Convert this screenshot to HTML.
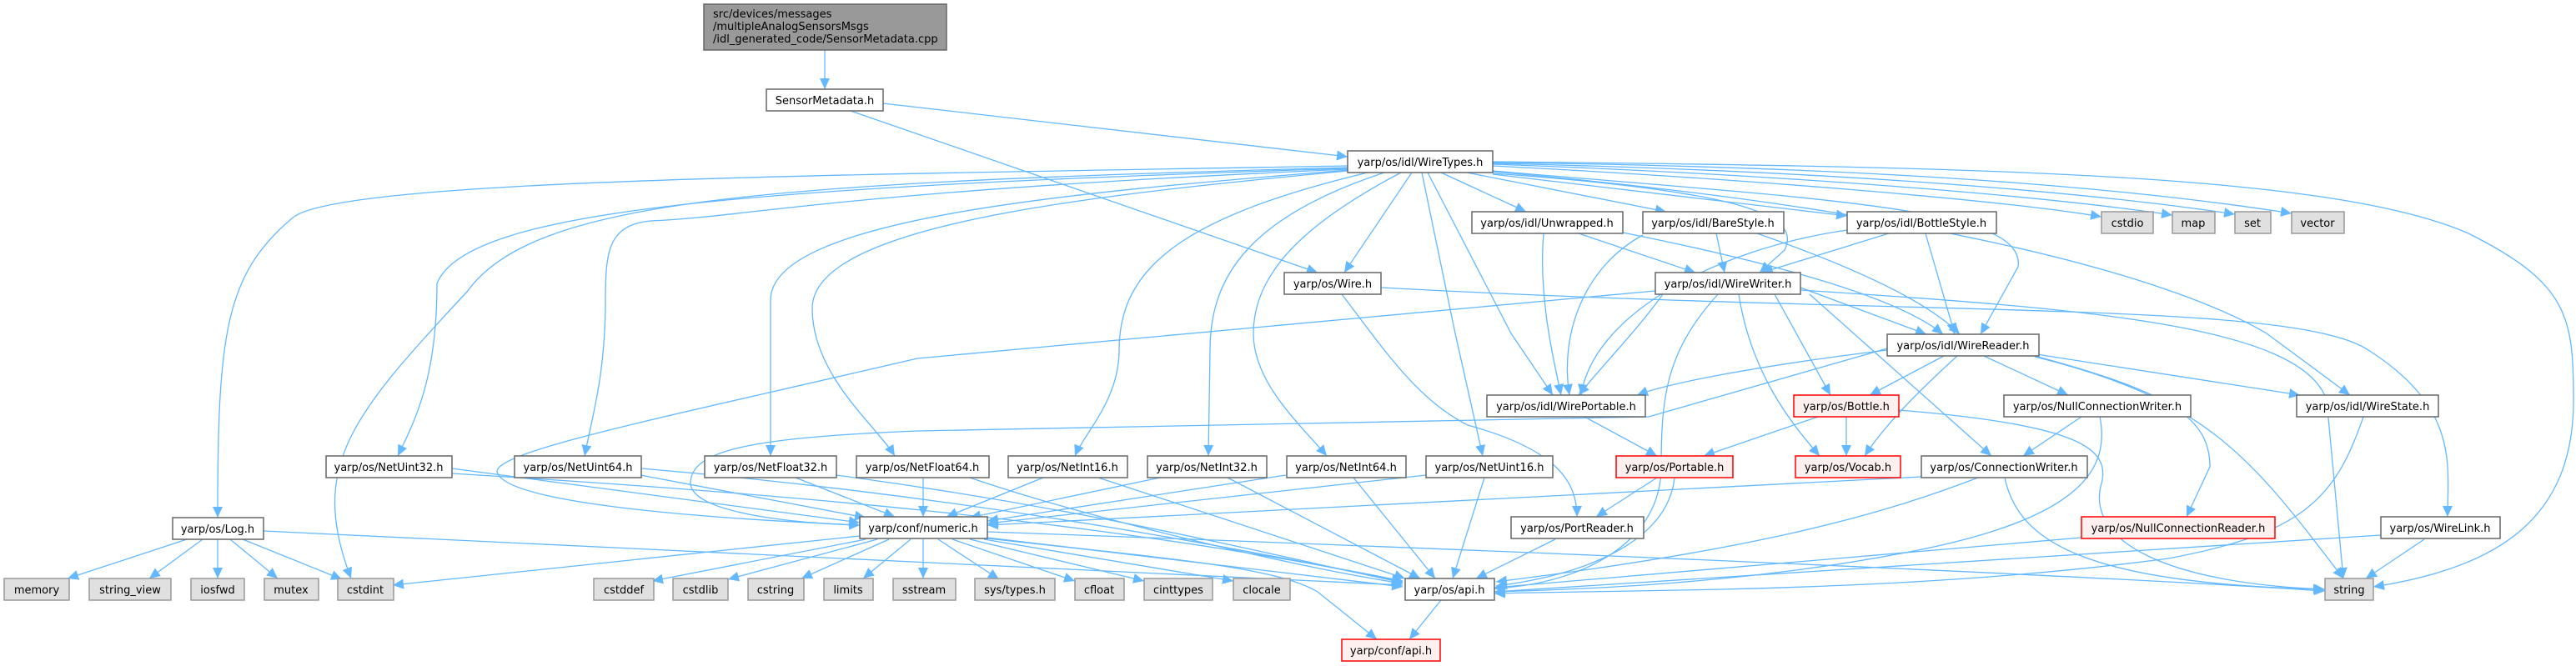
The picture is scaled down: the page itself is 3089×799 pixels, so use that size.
<!DOCTYPE html>
<html><head><meta charset="utf-8"><style>
html,body{margin:0;padding:0;background:#fff;}
svg{display:block;}
text{font-family:"DejaVu Sans","Liberation Sans",sans-serif;font-size:13px;fill:#000;}
.e{fill:none;stroke:#63b8ff;stroke-width:1.3;marker-end:url(#a);}
.n rect{fill:#fff;stroke:#666;stroke-width:1.5;}
.g rect{fill:#e0e0e0;stroke:#999;stroke-width:1.5;}
.r rect{fill:#fff0f0;stroke:#f00;stroke-width:1.5;}
</style></head><body>
<svg width="3089" height="799" viewBox="0 0 3089 799" xmlns="http://www.w3.org/2000/svg">
<defs><marker id="a" markerUnits="userSpaceOnUse" markerWidth="14" markerHeight="12" refX="13" refY="6" orient="auto"><path d="M0,0 L13,6 L0,12 z" fill="#63b8ff"/></marker></defs>
<g>
<path class="e" d="M989,60 L989,107"/>
<path class="e" d="M1059,124 L1616,188"/>
<path class="e" d="M1020,133 L1580,327"/>
<path class="e" d="M1616,199 C1000,210 400,215 350,262 C270,330 261,400 261,621"/>
<path class="e" d="M1616,201 C900,220 640,240 560,350 C420,500 370,560 421,694"/>
<path class="e" d="M1616,202 C900,225 560,250 524,340 C524,450 500,500 477,547"/>
<path class="e" d="M1616,203 C1000,230 900,260 780,265 C730,270 726,300 726,360 C726,450 710,500 701,547"/>
<path class="e" d="M1616,204 C1300,230 924,260 924,360 L924,547"/>
<path class="e" d="M1616,205 C1300,235 974,270 974,370 C974,450 1050,510 1073,547"/>
<path class="e" d="M1640,207 C1420,260 1342,320 1342,420 C1342,480 1300,520 1289,547"/>
<path class="e" d="M1660,207 C1500,260 1451,330 1451,420 L1449,547"/>
<path class="e" d="M1680,207 C1560,270 1503,330 1503,400 C1503,460 1560,510 1591,547"/>
<path class="e" d="M1705,207 L1745,400 L1778,547"/>
<path class="e" d="M1693,207 L1612,327"/>
<path class="e" d="M1712,207 L1812,400 L1862,474"/>
<path class="e" d="M1728,207 L1830,254"/>
<path class="e" d="M1759,207 L1998,254"/>
<path class="e" d="M1790,209 L2215,259"/>
<path class="e" d="M1790,199 C2100,215 2400,240 2520,260"/>
<path class="e" d="M1790,197 C2150,210 2450,235 2605,258"/>
<path class="e" d="M1790,196 C2200,205 2500,230 2680,257"/>
<path class="e" d="M1790,195 C2250,200 2550,225 2748,256"/>
<path class="e" d="M1790,194 C2400,200 2800,210 2960,280 C3080,340 3086,380 3086,480 C3086,620 3000,680 2846,704"/>
<path class="e" d="M1790,208 C2100,230 2160,260 2140,300 L2110,327"/>
<path class="e" d="M1790,205 C2200,240 2430,250 2420,320 L2375,401"/>
<path class="e" d="M1790,206 C2300,250 2600,330 2718,400 L2818,474"/>
<path class="e" d="M1851,280 C1845,350 1860,420 1872,474"/>
<path class="e" d="M1893,280 L2033,327"/>
<path class="e" d="M1946,279 C2150,320 2280,360 2330,401"/>
<path class="e" d="M1970,282 C1900,320 1870,400 1882,474"/>
<path class="e" d="M2058,280 L2068,327"/>
<path class="e" d="M2107,280 C2250,330 2320,370 2350,401"/>
<path class="e" d="M2215,276 C2050,300 1910,380 1896,474"/>
<path class="e" d="M2265,280 L2113,327"/>
<path class="e" d="M2309,280 L2344,401"/>
<path class="e" d="M1994,353 C1960,400 1920,440 1893,474"/>
<path class="e" d="M2263,420 C2100,440 2000,460 1963,474"/>
<path class="e" d="M1609,353 C1660,420 1700,480 1760,510 C1870,540 1891,580 1891,620"/>
<path class="e" d="M1656,345 C2300,380 2750,360 2840,420 C2950,490 2935,560 2935,620"/>
<path class="e" d="M2159,345 L2310,401"/>
<path class="e" d="M2159,348 C2500,370 2760,390 2790,480 L2810,694"/>
<path class="e" d="M1985,349 L1100,430 C800,500 600,540 596,565 C600,600 800,620 1031,630"/>
<path class="e" d="M2263,418 L1977,500 L1100,517 C900,525 828,540 828,580 C830,615 950,628 1031,630"/>
<path class="e" d="M2128,353 L2195,474"/>
<path class="e" d="M2331,427 L2242,474"/>
<path class="e" d="M2085,353 C2100,450 2150,510 2182,547"/>
<path class="e" d="M2347,427 C2300,470 2260,510 2236,547"/>
<path class="e" d="M2214,500 L2214,547"/>
<path class="e" d="M2170,353 L2388,547"/>
<path class="e" d="M2060,353 C2000,420 1992,470 1992,560 C1992,650 1900,700 1792,706"/>
<path class="e" d="M2379,427 L2480,474"/>
<path class="e" d="M2440,427 C2600,470 2650,500 2650,560 L2622,620"/>
<path class="e" d="M2442,425 L2758,474"/>
<path class="e" d="M2440,428 C2650,480 2700,550 2810,694"/>
<path class="e" d="M1900,500 L1987,547"/>
<path class="e" d="M2180,500 L2043,547"/>
<path class="e" d="M2277,492 C2500,510 2530,540 2520,580 C2500,650 2600,700 2788,707"/>
<path class="e" d="M1987,573 L1914,620"/>
<path class="e" d="M2008,573 C2000,650 1900,690 1794,703"/>
<path class="e" d="M1865,647 L1770,694"/>
<path class="e" d="M2496,500 L2426,547"/>
<path class="e" d="M2518,500 C2530,560 2500,620 2300,660 C2100,700 1900,707 1792,710"/>
<path class="e" d="M2304,572 L1184,630"/>
<path class="e" d="M2372,573 C2250,620 2100,660 1794,698"/>
<path class="e" d="M2404,573 C2420,650 2500,700 2787,707"/>
<path class="e" d="M2834,500 C2800,600 2760,640 2600,670 C2300,710 2000,707 1792,712"/>
<path class="e" d="M2496,645 L1792,705"/>
<path class="e" d="M2855,642 L1792,710"/>
<path class="e" d="M2907,647 L2837,694"/>
<path class="e" d="M542,562 L1031,627"/>
<path class="e" d="M542,568 C900,590 1300,620 1682,697"/>
<path class="e" d="M768,570 L1038,621"/>
<path class="e" d="M769,562 C1100,590 1400,640 1682,698"/>
<path class="e" d="M954,573 L1073,620"/>
<path class="e" d="M1003,570 C1300,610 1500,660 1682,699"/>
<path class="e" d="M1107,573 L1107,620"/>
<path class="e" d="M1163,573 C1300,620 1550,680 1682,700"/>
<path class="e" d="M1251,573 L1135,620"/>
<path class="e" d="M1317,573 L1685,694"/>
<path class="e" d="M1391,573 L1163,621"/>
<path class="e" d="M1472,573 L1703,694"/>
<path class="e" d="M1542,570 L1184,625"/>
<path class="e" d="M1623,573 L1721,694"/>
<path class="e" d="M1710,570 L1184,628"/>
<path class="e" d="M1780,573 L1742,694"/>
<path class="e" d="M224,647 L81,694"/>
<path class="e" d="M243,647 L179,694"/>
<path class="e" d="M261,647 L261,694"/>
<path class="e" d="M276,647 L333,694"/>
<path class="e" d="M291,647 L410,695"/>
<path class="e" d="M316,637 L1682,702"/>
<path class="e" d="M1031,643 L471,702"/>
<path class="e" d="M1038,647 L782,697"/>
<path class="e" d="M1052,647 L873,695"/>
<path class="e" d="M1066,647 L961,694"/>
<path class="e" d="M1092,647 L1035,694"/>
<path class="e" d="M1107,647 L1107,694"/>
<path class="e" d="M1125,647 L1198,695"/>
<path class="e" d="M1142,647 L1289,697"/>
<path class="e" d="M1163,647 L1372,697"/>
<path class="e" d="M1180,647 L1479,697"/>
<path class="e" d="M1184,645 L1682,704"/>
<path class="e" d="M1184,646 C1400,670 1530,680 1580,710 L1651,767"/>
<path class="e" d="M1184,638 C1800,660 2500,690 2788,709"/>
<path class="e" d="M1728,720 L1690,767"/>
</g>
<g class="g" fill="none"><rect x="844" y="5" width="291" height="55" style="fill:#999;stroke:#666;stroke-width:1.5"/></g>
<text x="855" y="21">src/devices/messages</text>
<text x="855" y="36">/multipleAnalogSensorsMsgs</text>
<text x="855" y="51">/idl_generated_code/SensorMetadata.cpp</text>
<g class="n">
<rect x="919" y="107" width="140" height="26"/>
<rect x="1616" y="181" width="174" height="26"/>
<rect x="1765" y="254" width="181" height="26"/>
<rect x="1970" y="254" width="169" height="26"/>
<rect x="2215" y="254" width="179" height="26"/>
<rect x="1540" y="327" width="116" height="26"/>
<rect x="1985" y="327" width="174" height="26"/>
<rect x="2263" y="401" width="182" height="26"/>
<rect x="1783" y="474" width="190" height="26"/>
<rect x="2403" y="474" width="224" height="26"/>
<rect x="2754" y="474" width="170" height="26"/>
<rect x="391" y="547" width="151" height="26"/>
<rect x="617" y="547" width="152" height="26"/>
<rect x="845" y="547" width="158" height="26"/>
<rect x="1027" y="547" width="159" height="26"/>
<rect x="1209" y="547" width="143" height="26"/>
<rect x="1376" y="547" width="143" height="26"/>
<rect x="1543" y="547" width="143" height="26"/>
<rect x="1710" y="547" width="152" height="26"/>
<rect x="2304" y="547" width="199" height="26"/>
<rect x="207" y="621" width="109" height="26"/>
<rect x="1031" y="620" width="153" height="26"/>
<rect x="1812" y="620" width="159" height="26"/>
<rect x="2855" y="620" width="143" height="26"/>
<rect x="1685" y="694" width="107" height="26"/>
</g>
<g class="r">
<rect x="2151" y="474" width="126" height="26"/>
<rect x="2153" y="547" width="126" height="26"/>
<rect x="1938" y="547" width="140" height="26"/>
<rect x="2496" y="620" width="232" height="26"/>
<rect x="1609" y="767" width="118" height="26"/>
</g>
<g class="g">
<rect x="2520" y="254" width="62" height="26"/>
<rect x="2605" y="254" width="51" height="26"/>
<rect x="2680" y="254" width="43" height="26"/>
<rect x="2748" y="254" width="63" height="26"/>
<rect x="5" y="694" width="78" height="26"/>
<rect x="107" y="694" width="98" height="26"/>
<rect x="229" y="694" width="64" height="26"/>
<rect x="317" y="694" width="65" height="26"/>
<rect x="405" y="694" width="67" height="26"/>
<rect x="712" y="694" width="72" height="26"/>
<rect x="807" y="694" width="66" height="26"/>
<rect x="897" y="694" width="67" height="26"/>
<rect x="988" y="694" width="59" height="26"/>
<rect x="1071" y="694" width="75" height="26"/>
<rect x="1169" y="694" width="96" height="26"/>
<rect x="1289" y="694" width="59" height="26"/>
<rect x="1372" y="694" width="82" height="26"/>
<rect x="1479" y="694" width="68" height="26"/>
<rect x="2788" y="694" width="58" height="26"/>
</g>
<g text-anchor="middle">
<text x="989" y="125">SensorMetadata.h</text>
<text x="1703" y="199">yarp/os/idl/WireTypes.h</text>
<text x="1855" y="272">yarp/os/idl/Unwrapped.h</text>
<text x="2054" y="272">yarp/os/idl/BareStyle.h</text>
<text x="2304" y="272">yarp/os/idl/BottleStyle.h</text>
<text x="2551" y="272">cstdio</text>
<text x="2630" y="272">map</text>
<text x="2701" y="272">set</text>
<text x="2779" y="272">vector</text>
<text x="1598" y="345">yarp/os/Wire.h</text>
<text x="2072" y="345">yarp/os/idl/WireWriter.h</text>
<text x="2354" y="419">yarp/os/idl/WireReader.h</text>
<text x="1878" y="492">yarp/os/idl/WirePortable.h</text>
<text x="2214" y="492">yarp/os/Bottle.h</text>
<text x="2515" y="492">yarp/os/NullConnectionWriter.h</text>
<text x="2839" y="492">yarp/os/idl/WireState.h</text>
<text x="466" y="565">yarp/os/NetUint32.h</text>
<text x="693" y="565">yarp/os/NetUint64.h</text>
<text x="924" y="565">yarp/os/NetFloat32.h</text>
<text x="1106" y="565">yarp/os/NetFloat64.h</text>
<text x="1280" y="565">yarp/os/NetInt16.h</text>
<text x="1447" y="565">yarp/os/NetInt32.h</text>
<text x="1614" y="565">yarp/os/NetInt64.h</text>
<text x="1786" y="565">yarp/os/NetUint16.h</text>
<text x="2008" y="565">yarp/os/Portable.h</text>
<text x="2216" y="565">yarp/os/Vocab.h</text>
<text x="2403" y="565">yarp/os/ConnectionWriter.h</text>
<text x="261" y="639">yarp/os/Log.h</text>
<text x="1107" y="638">yarp/conf/numeric.h</text>
<text x="1891" y="638">yarp/os/PortReader.h</text>
<text x="2612" y="638">yarp/os/NullConnectionReader.h</text>
<text x="2926" y="638">yarp/os/WireLink.h</text>
<text x="44" y="712">memory</text>
<text x="156" y="712">string_view</text>
<text x="261" y="712">iosfwd</text>
<text x="349" y="712">mutex</text>
<text x="438" y="712">cstdint</text>
<text x="748" y="712">cstddef</text>
<text x="840" y="712">cstdlib</text>
<text x="930" y="712">cstring</text>
<text x="1017" y="712">limits</text>
<text x="1108" y="712">sstream</text>
<text x="1217" y="712">sys/types.h</text>
<text x="1318" y="712">cfloat</text>
<text x="1413" y="712">cinttypes</text>
<text x="1513" y="712">clocale</text>
<text x="1738" y="712">yarp/os/api.h</text>
<text x="2817" y="712">string</text>
<text x="1668" y="785">yarp/conf/api.h</text>
</g>
</svg>
</body></html>
